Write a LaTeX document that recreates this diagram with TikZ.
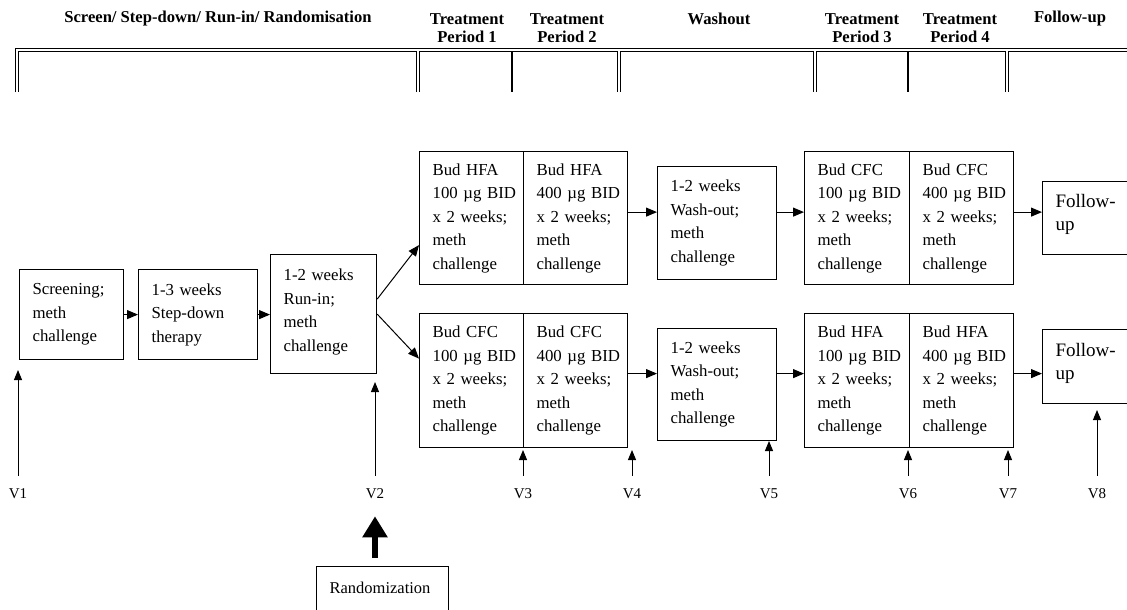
\documentclass[tikz,border=0pt]{standalone}
\usepackage{fontspec}
\setmainfont{Liberation Serif}
\usetikzlibrary{positioning,arrows.meta}

\begin{document}
\begin{tikzpicture}[x=1pt,y=-1pt,
  box/.style={draw,line width=1.2pt,anchor=north west,align=left,
    inner xsep=13pt,inner ysep=0pt,font=\fontsize{16.8}{23.5}\selectfont},
  head/.style={font=\bfseries\fontsize{16.6}{18}\selectfont,align=center},
  arr/.style={line width=1pt,-{Triangle[length=11pt,width=9pt]}},
  varr/.style={line width=1pt,-{Triangle[length=10pt,width=8pt]}}]

  \useasboundingbox (0,0) rectangle (1127,610);

  % period headings
  \node[head] (hscreen) at (218,19) {Screen/ Step-down/ Run-in/ Randomisation};
  \node[head] (htp1) at (467,28) {Treatment\\Period 1};
  \node[head] (htp2) at (567,28) {Treatment\\Period 2};
  \node[head] (hwash) at (719,19) {Washout};
  \node[head] (htp3) at (862,28) {Treatment\\Period 3};
  \node[head] (htp4) at (960,28) {Treatment\\Period 4};
  \node[head] (hfollow) at (1070,19) {Follow-up};

  % brackets
  \draw[line width=4pt,line join=miter] (17,92) -- (17,50) -- (1130,50);
  \foreach \x in {418,619,815,1007}
    \draw[line width=4pt] (\x,50) -- (\x,92);
  \draw[white,line width=1.4pt,line join=miter] (17,92) -- (17,50) -- (1130,50);
  \foreach \x in {418,619,815,1007}
    \draw[white,line width=1.4pt] (\x,50) -- (\x,92);
  \foreach \x in {512,908}
    \draw[line width=1.2pt] (\x,52) -- (\x,92);

  % run-in phase
  \node[box,text width=78pt,minimum height=90pt] (screen) at (19,269)
    {Screening;\\meth\\challenge};
  \node[box,text width=93pt,minimum height=90pt] (stepdown) at (138,269)
    {1-3~weeks\\Step-down\\therapy};
  \node[box,text width=80pt,minimum height=119pt] (runin) at (270,254)
    {1-2~weeks\\Run-in;\\meth\\challenge\\[-15.5pt]\mbox{}};

  % upper sequence
  \node[box,text width=78pt,minimum height=133pt] (hfa1) at (419,151)
    {Bud~HFA\\100~µg~BID\\x~2~weeks;\\meth\\challenge};
  \node[box,text width=78pt,minimum height=133pt] (hfa2) at (523,151)
    {Bud~HFA\\400~µg~BID\\x~2~weeks;\\meth\\challenge};
  \node[box,text width=93pt,minimum height=113pt] (washa) at (657,166)
    {1-2~weeks\\Wash-out;\\meth\\challenge};
  \node[box,text width=79pt,minimum height=133pt] (cfc3) at (804,151)
    {Bud~CFC\\100~µg~BID\\x~2~weeks;\\meth\\challenge};
  \node[box,text width=78pt,minimum height=133pt] (cfc4) at (909,151)
    {Bud~CFC\\400~µg~BID\\x~2~weeks;\\meth\\challenge};
  \node[box,text width=100pt,minimum height=73pt,font=\fontsize{19}{23}\selectfont] (followa) at (1042,181)
    {Follow-\\up\\[-12pt]\mbox{}};

  % lower sequence
  \node[box,text width=78pt,minimum height=134pt] (cfc1) at (419,313)
    {Bud~CFC\\100~µg~BID\\x~2~weeks;\\meth\\challenge};
  \node[box,text width=78pt,minimum height=134pt] (cfc2) at (523,313)
    {Bud~CFC\\400~µg~BID\\x~2~weeks;\\meth\\challenge};
  \node[box,text width=93pt,minimum height=112pt] (washb) at (657,328)
    {1-2~weeks\\Wash-out;\\meth\\challenge};
  \node[box,text width=79pt,minimum height=134pt] (hfa3) at (804,313)
    {Bud~HFA\\100~µg~BID\\x~2~weeks;\\meth\\challenge};
  \node[box,text width=78pt,minimum height=134pt] (hfa4) at (909,313)
    {Bud~HFA\\400~µg~BID\\x~2~weeks;\\meth\\challenge};
  \node[box,text width=100pt,minimum height=74pt,font=\fontsize{19}{23}\selectfont] (followb) at (1042,329)
    {Follow-\\up\\[-12pt]\mbox{}};

  \node[box,text width=106pt,minimum height=50pt,inner xsep=13pt,
    font=\fontsize{16.5}{20}\selectfont] (rand) at (316,566) {Randomization\\[-12pt]\mbox{}};

  % flow
  \draw[arr] (screen) -- (stepdown);
  \draw[arr] (stepdown) -- (stepdown -| runin.west);
  \draw[arr] ([yshift=15pt]runin.east) -- ([yshift=-27pt]hfa1.west);
  \draw[arr] (runin.east) -- ([yshift=22pt]cfc1.west);
  \foreach \from/\to in {hfa2/washa,washa/cfc3,cfc4/followa}
    \draw[arr] ([yshift=6pt]\from.east |- hfa2.east) -- ([yshift=6pt]\to.west |- hfa2.east);
  \foreach \from/\to in {cfc2/washb,washb/hfa3,hfa4/followb}
    \draw[arr] ([yshift=7pt]\from.east |- cfc2.east) -- ([yshift=7pt]\to.west |- cfc2.east);

  % visits
  \foreach \v/\x/\t in {1/18/370,2/375/382,3/523/450,4/632/450,5/769/441,6/908/450,7/1008/450,8/1097/410}{
    \node[font=\fontsize{15}{18}\selectfont,inner sep=0pt] (v\v) at (\x,494) {V\v};
    \coordinate (t\v) at (\x,\t);
    \draw[varr] ([yshift=13pt]v\v.north) -- (t\v);
  }

  \draw[line width=6pt,-{Triangle[length=21pt,width=24pt]}] ([yshift=8pt]rand.north -| v2) -- ([yshift=-17pt]v2.south);

\end{tikzpicture}
\end{document}
